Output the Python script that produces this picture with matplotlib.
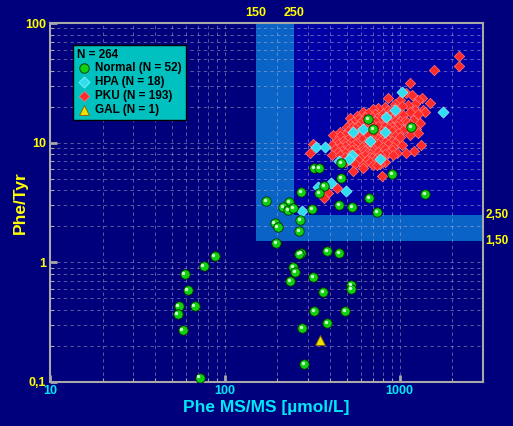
import matplotlib
matplotlib.use("Agg")
import matplotlib.pyplot as plt
from matplotlib.ticker import LogLocator, NullFormatter
from matplotlib.transforms import offset_copy

plt.rcParams['font.family'] = ['Liberation Sans', 'DejaVu Sans']
plt.rcParams['font.weight'] = 'bold'

# Phe MS/MS (umol/L) und Phe/Tyr-Quotient
normal_phe = [324, 346, 462, 462, 369, 346, 273, 172, 233, 215,
              230, 245, 315, 450, 534, 669, 906, 1400, 743, 269,
              193, 201, 266, 197, 384, 273, 266, 450, 245, 252,
              319, 236, 527, 527, 364, 324, 487, 384, 276, 284,
              87.6, 75.8, 59.0, 61.4, 54.5, 67.3, 53.8, 57.4, 71.9, 660,
              705, 1164]
normal_ratio = [6.10, 6.10, 6.71, 5.03, 4.32, 3.77, 3.84, 3.23, 3.17, 2.88,
                2.72, 2.83, 2.77, 2.99, 2.88, 3.43, 5.43, 3.70, 2.62, 2.24,
                2.12, 1.96, 1.82, 1.44, 1.24, 1.19, 1.17, 1.19, 0.908, 0.825,
                0.750, 0.694, 0.643, 0.594, 0.561, 0.390, 0.390, 0.309, 0.281, 0.141,
                1.12, 0.926, 0.794, 0.584, 0.429, 0.429, 0.368, 0.270, 0.109, 15.7,
                12.9, 13.4]

hpa_phe = [1033, 1776, 837, 618, 541, 826, 773, 534, 514, 332,
           374, 405, 341, 494, 276, 450, 678, 942]
hpa_ratio = [26.3, 18.2, 16.3, 12.9, 12.2, 12.2, 7.25, 7.83, 7.25, 9.14,
             9.14, 4.57, 4.23, 3.92, 2.67, 6.98, 10.4, 18.6]

pku_phe = [2193, 2190, 1577, 1149, 1089, 1180, 859, 1346, 1007, 1276,
           1495, 942, 1227, 1119, 1034, 826, 753, 942, 705,
           1364, 859, 906, 1227, 618, 1149, 1400, 660,
           1276, 724, 804, 1007, 882, 942, 1047, 571,
           634, 696, 826, 520, 743, 578, 678, 773, 906, 1195,
           610, 724, 848, 1007, 942, 1075, 541, 1104, 594, 980, 1311,
           520, 696, 882, 1149, 651, 794, 578, 753, 826, 968,
           500, 534, 660, 906, 556, 634, 696, 859, 1119, 1243,
           942, 1047, 507, 594, 794, 906, 456, 724, 1276, 634, 980,
           541, 696, 773, 859, 416, 487, 594, 660, 1149,
           456, 578, 804, 942, 1007, 556, 724, 826, 534,
           507, 610, 753, 848, 438, 475, 705, 906, 534, 678, 773,
           651, 826, 571, 487, 724, 942, 319, 444, 556, 660, 753, 859,
           410, 507, 1034, 1328, 487, 534, 678, 456, 610, 804, 918, 696,
           427, 507, 556, 826, 618, 534, 906, 1211, 468, 634, 696, 444, 753,
           307, 487, 571, 651, 859, 968, 1089, 678, 826,
           410, 456, 520, 634, 773, 918, 678, 487, 556, 594, 696, 743,
           724, 804, 507, 578, 651, 487, 678, 826, 556, 773,
           705, 743, 618, 618, 541, 794, 438, 389, 369]
pku_ratio = [52.6, 43.4, 40.2, 31.3, 25.8, 24.8, 23.5, 23.5, 22.6, 22.6,
             21.3, 20.9, 20.9, 20.5, 20.1, 19.7, 19.3, 19.3, 19.0,
             18.6, 18.6, 18.6, 18.6, 17.9, 17.9, 17.9, 17.6,
             17.2, 17.2, 17.2, 17.2, 16.9, 16.9, 16.9, 16.6,
             16.3, 16.3, 16.3, 16.0, 16.0, 15.7, 15.7, 15.7, 15.7, 15.4,
             15.1, 15.1, 15.1, 15.1, 15.1, 15.1, 14.8, 14.8, 14.5, 14.5, 14.5,
             14.2, 14.2, 14.2, 14.2, 13.9, 13.9, 13.7, 13.7, 13.7, 13.7,
             13.4, 13.4, 13.4, 13.4, 13.2, 13.2, 13.2, 13.2, 13.2, 12.9,
             12.7, 12.7, 12.4, 12.4, 12.4, 12.4, 12.2, 12.2, 12.0, 12.0, 12.0,
             11.7, 11.7, 11.7, 11.7, 11.5, 11.5, 11.5, 11.5, 11.5,
             11.3, 11.3, 11.3, 11.3, 11.1, 11.1, 11.1, 11.1, 10.9,
             10.7, 10.7, 10.7, 10.7, 10.4, 10.4, 10.4, 10.4, 10.3, 10.3, 10.3,
             10.1, 10.1, 9.87, 9.87, 9.87, 9.87, 9.68, 9.68, 9.68, 9.68, 9.68, 9.68,
             9.49, 9.49, 9.49, 9.49, 9.31, 9.31, 9.31, 9.14, 9.14, 9.14, 9.14, 8.96,
             8.79, 8.79, 8.79, 8.79, 8.62, 8.62, 8.62, 8.46, 8.46, 8.46, 8.46, 8.30, 8.30,
             8.14, 8.14, 8.14, 8.14, 8.14, 8.14, 8.14, 7.99, 7.99,
             7.83, 7.83, 7.83, 7.83, 7.83, 7.83, 7.54, 7.54, 7.54, 7.39, 7.39, 7.39,
             7.11, 7.11, 7.11, 7.11, 7.11, 6.84, 6.84, 6.84, 6.59, 6.59,
             6.46, 6.46, 6.46, 6.10, 5.75, 5.23, 4.15, 3.77, 3.43]

gal_phe = [352]
gal_ratio = [0.223]

labels = ['Normal (N = 52)', 'HPA (N = 18)', 'PKU (N = 193)', 'GAL (N = 1)']
total_label = 'N = 264'

bg = '#00007c'
fig = plt.figure(figsize=(5.13, 4.26), dpi=100, facecolor=bg)
ax = fig.add_axes([50 / 513, 44 / 426, 433 / 513, 359 / 426])
ax.set_facecolor(bg)
ax.set_xscale('log')
ax.set_yscale('log')
ax.set_xlim(10, 3000)
ax.set_ylim(0.1, 100)

# Bereiche 150-250 umol/L und Quotient 1,50-2,50
light = '#0a64c8'
ax.fill_between([250, 3000], 2.5, 100, color='#0000a4', lw=0, zorder=0.6)
ax.fill_between([150, 250], 1.5, 100, color=light, lw=0, zorder=0.7)
ax.fill_between([150, 3000], 1.5, 2.5, color=light, lw=0, zorder=0.7)

ax.set_axisbelow('line')
ax.grid(True, which='both', color='#b0b0c8', ls=(0, (4, 4)), lw=0.6, alpha=0.6)

# Normal: gruene Kugeln mit Glanzpunkt
h_norm = ax.scatter(normal_phe, normal_ratio, s=46, c='#10d010', edgecolors='#003000',
                    linewidths=0.6, zorder=5)
hi = offset_copy(ax.transData, fig=fig, x=-1.3, y=1.3, units='dots')
ax.scatter(normal_phe, normal_ratio, s=6, c='#c8ffc8', lw=0, transform=hi, zorder=6)

h_pku = ax.scatter(pku_phe, pku_ratio, s=28, marker='D', c='#ff2a2a', edgecolors='#ff7a7a',
                   linewidths=0.5, zorder=3)
h_hpa = ax.scatter(hpa_phe, hpa_ratio, s=32, marker='D', c='#30dcf0', edgecolors='#90f4ff',
                   linewidths=0.5, zorder=4)
h_gal = ax.scatter(gal_phe, gal_ratio, s=50, marker='^', c='#f0e000', edgecolors='#806000',
                   linewidths=0.6, zorder=5)

for side in ax.spines.values():
    side.set_color('#a8a8a8')
    side.set_linewidth(1.5)

ax.set_xticks([10, 100, 1000])
ax.set_xticklabels(['10', '100', '1000'])
ax.set_yticks([0.1, 1, 10, 100])
ax.set_yticklabels(['0,1', '1', '10', '100'])
ax.xaxis.set_minor_locator(LogLocator(base=10, subs=range(2, 10)))
ax.yaxis.set_minor_locator(LogLocator(base=10, subs=range(2, 10)))
ax.xaxis.set_minor_formatter(NullFormatter())
ax.yaxis.set_minor_formatter(NullFormatter())
ax.tick_params(which='major', direction='in', length=5, width=2, color='#a8a8a8', labelsize=9)
ax.tick_params(which='minor', direction='in', length=3, width=0.8, color='#a8a8a8')
ax.tick_params(axis='x', labelcolor='#00e8f8', pad=2)
ax.tick_params(axis='y', labelcolor='#ffff00', pad=3)

ax.set_xlabel('Phe MS/MS [\u00b5mol/L]', color='#00e8f8', fontsize=12.5, fontweight='bold', labelpad=2)
ax.set_ylabel('Phe/Tyr', color='#ffff00', fontsize=12.5, fontweight='bold')
ax.yaxis.set_label_coords(-0.05, 0.5)

# Grenzwerte ausserhalb der Achse
for xv, txt in [(150, '150'), (250, '250')]:
    ax.text(xv, 1.012, txt, transform=ax.get_xaxis_transform(), color='#ffff00',
            fontsize=9, fontweight='bold', ha='center', va='bottom')
for yv, txt in [(2.5, '2,50'), (1.5, '1,50')]:
    ax.text(1.006, yv, txt, transform=ax.get_yaxis_transform(), color='#ffff00',
            fontsize=8.5, fontweight='bold', ha='left', va='center')

leg = ax.legend([h_norm, h_hpa, h_pku, h_gal], labels, title=total_label,
                loc='upper left', bbox_to_anchor=(0.053, 0.94), fontsize=8.5,
                title_fontsize=8.5, facecolor='#00c0c0', edgecolor='black',
                framealpha=1, fancybox=False, borderpad=0.35, labelspacing=0.15,
                handletextpad=0.3, handlelength=1.2, borderaxespad=0)
leg._legend_box.align = 'left'
leg.get_title().set_fontweight('bold')
leg.get_frame().set_linewidth(1.0)
leg.set_zorder(10)

fig.savefig('out.png', dpi=100, facecolor=bg)
